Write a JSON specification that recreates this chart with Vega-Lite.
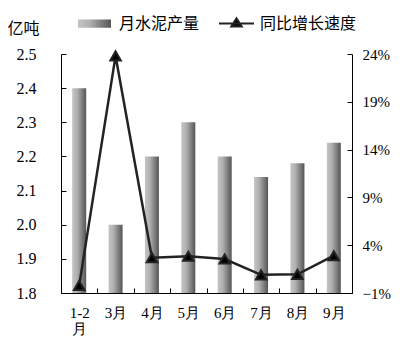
{
  "$schema": "https://vega.github.io/schema/vega-lite/v6.json",
  "autosize": {"type": "none"},
  "width": 291,
  "height": 239,
  "padding": {"left": 61, "top": 54, "right": 48, "bottom": 61},
  "background": "white",
  "config": {
    "view": {"stroke": null},
    "axis": {"domainColor": "#000", "tickColor": "#000", "labelColor": "#000", "titleColor": "#000", "grid": false, "labelFontSize": 15},
    "legend": {"labelColor": "#000"}
  },
  "data": {"values": [
    {"month": "1-2月", "output": 2.4, "growth": -0.2},
    {"month": "3月", "output": 2.0, "growth": 23.8},
    {"month": "4月", "output": 2.2, "growth": 2.7},
    {"month": "5月", "output": 2.3, "growth": 2.85},
    {"month": "6月", "output": 2.2, "growth": 2.55},
    {"month": "7月", "output": 2.14, "growth": 0.9},
    {"month": "8月", "output": 2.18, "growth": 0.95},
    {"month": "9月", "output": 2.24, "growth": 2.9}
  ]},
  "encoding": {
    "x": {
      "field": "month", "type": "nominal", "sort": null,
      "scale": {"paddingInner": 0, "paddingOuter": 0},
      "axis": {
        "title": null, "labelAngle": 0, "tickBand": "extent", "tickSize": -5,
        "labelPadding": 17, "labelLineHeight": 16, "labelFont": "Liberation Serif",
        "labelExpr": "datum.value == '1-2月' ? ['1-2', '月'] : datum.label"
      }
    }
  },
  "layer": [
    {
      "mark": {
        "type": "bar", "size": 14,
        "fill": {"gradient": "linear", "x1": 0, "y1": 0, "x2": 1, "y2": 0,
          "stops": [{"offset": 0, "color": "#c4c4c4"}, {"offset": 0.35, "color": "#b0b0b0"}, {"offset": 1, "color": "#555555"}]}
      },
      "encoding": {
        "y": {
          "field": "output", "type": "quantitative",
          "scale": {"domain": [1.8, 2.5], "nice": false, "zero": false},
          "axis": {
            "values": [1.8, 1.9, 2.0, 2.1, 2.2, 2.3, 2.4, 2.5], "format": ".1f",
            "tickSize": -5, "labelPadding": 30, "labelFontSize": 16, "labelFont": "Liberation Serif",
            "title": "亿吨", "titleAngle": 0, "titleAlign": "left", "titleBaseline": "middle",
            "titleX": -54, "titleY": -26, "titleFontSize": 16, "titleFontWeight": "normal",
            "titleFont": "Noto Sans CJK SC"
          }
        },
        "y2": {"datum": 1.8},
        "opacity": {
          "datum": "月水泥产量",
          "scale": {"domain": ["月水泥产量"], "range": [1]},
          "legend": {
            "orient": "none", "legendX": 16, "legendY": -48, "direction": "horizontal",
            "title": null, "padding": 0,
            "symbolType": "M-1,-0.25H1V0.25H-1Z", "symbolSize": 1089,
            "labelFontSize": 16, "labelOffset": 7, "labelFont": "Noto Sans CJK SC",
            "encode": {"symbols": {
              "update": {
                "fill": {"value": {"gradient": "linear", "x1": 0, "y1": 0, "x2": 1, "y2": 0, "stops": [{"offset": 0, "color": "#c8c8c8"}, {"offset": 1, "color": "#555555"}]}},
                "stroke": {"value": "transparent"}
              }
            }}
          }
        }
      }
    },
    {
      "mark": {
        "type": "line", "strokeWidth": 2.5,
        "point": {"shape": "triangle-up", "size": 110, "filled": true, "fill": "#000"}
      },
      "encoding": {
        "y": {
          "field": "growth", "type": "quantitative",
          "scale": {"domain": [-1, 24], "nice": false, "zero": false},
          "axis": {
            "orient": "right", "values": [-1, 4, 9, 14, 19, 24],
            "labelExpr": "format(datum.value / 100, '.0%')", "labelFont": "Liberation Serif",
            "tickSize": -5, "labelPadding": 15, "title": null
          }
        },
        "stroke": {
          "datum": "同比增长速度",
          "scale": {"domain": ["同比增长速度"], "range": ["#222222"]},
          "legend": {
            "orient": "none", "legendX": 157, "legendY": -49, "direction": "horizontal",
            "title": null, "padding": 0,
            "symbolType": "M-1,0H1M-0.3,0.17L0,-0.3L0.3,0.17Z", "symbolSize": 1225,
            "labelFontSize": 16, "labelOffset": 5, "labelFont": "Noto Sans CJK SC",
            "encode": {"symbols": {"update": {
              "fill": {"value": "#000"}, "stroke": {"value": "#111"},
              "strokeWidth": {"value": 2}, "opacity": {"value": 1}
            }}}
          }
        }
      }
    }
  ],
  "resolve": {"scale": {"y": "independent"}}
}
